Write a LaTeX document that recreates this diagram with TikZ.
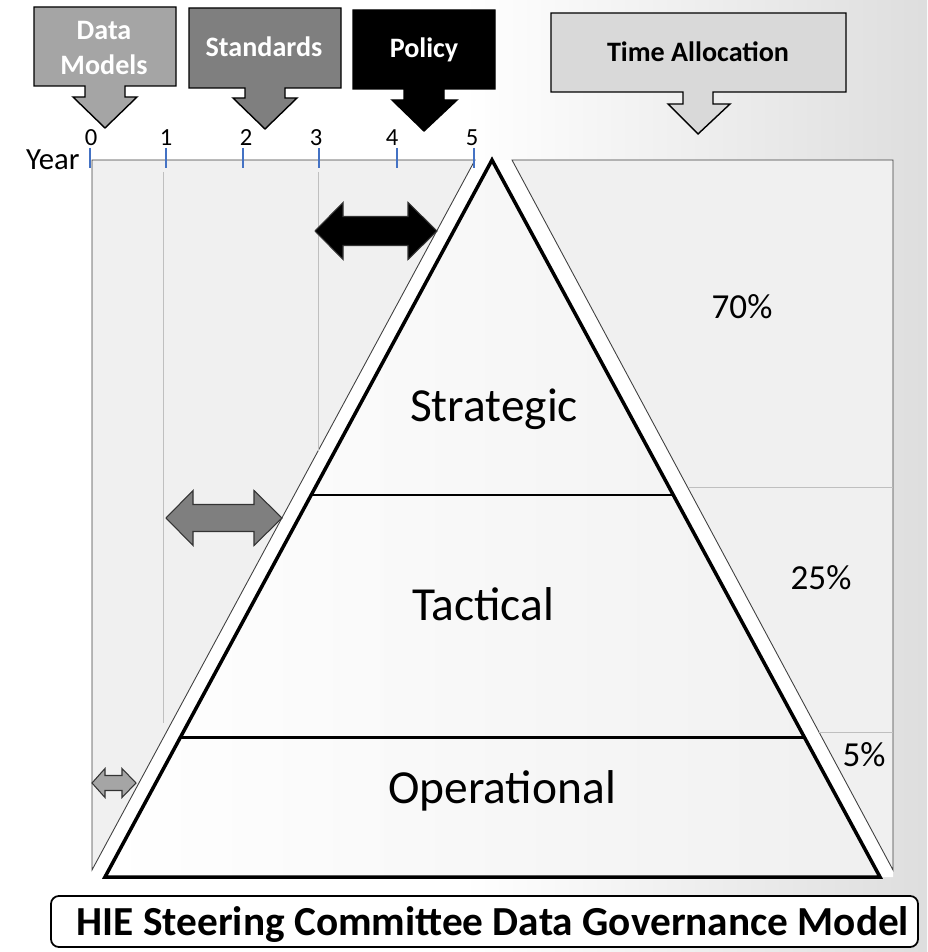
\documentclass[tikz,border=0pt]{standalone}
\usepackage{fontspec}
\setmainfont{Carlito}
\usepackage{tikz}
\usetikzlibrary{calc}
\definecolor{panelgray}{HTML}{F0F0F0}
\definecolor{modelgray}{HTML}{A5A5A5}
\definecolor{stdgray}{HTML}{7F7F7F}
\definecolor{timegray}{HTML}{D9D9D9}
\definecolor{tickblue}{HTML}{4472C4}
\pgfdeclarehorizontalshading{pagefade}{100bp}{color(0bp)=(white); color(25bp)=(white);
    color(50bp)=(white); color(75bp)=(black!13); color(100bp)=(black!13)}

\begin{document}
\begin{tikzpicture}[x=0.02cm, y=-0.02cm,
    callout/.style={draw=black, line width=0.8pt, line join=miter},
    twoway/.style={draw=black!80, line width=0.6pt, line join=miter},
    calltext/.style={font=\fontsize{16}{19.5}\selectfont\bfseries, anchor=base, align=center},
    tiertext/.style={font=\fontsize{27}{32}\selectfont, anchor=base},
    pcttext/.style={font=\fontsize{20}{24}\selectfont, anchor=base},
    gridline/.style={draw=black!25, line width=0.5pt}]
    \useasboundingbox (0,0) rectangle (927,952);

    % Background
    \shade[shading=pagefade] (0,0) rectangle (927,952);

    % Gaps beside the pyramid
    \fill[white] (475,160) -- (492,160) -- (105,877) -- (92,877) -- (92,870) -- cycle;
    \fill[white] (492,160) -- (512,160) -- (893,870) -- (893,877) -- (880,877) -- cycle;

    % Year panel
    \draw[fill=panelgray, draw=black!75, line width=0.5pt] (92,160) -- (475,160) -- (92,870) -- cycle;
    \draw[gridline] (163,172) -- (163,723);
    \draw[gridline] (318,172) -- (318,451);

    % Year ticks
    \foreach \tx/\lx/\yr in {90/91/0,166/166/1,243/246/2,319/316/3,397/392/4,474/472/5} {
        \draw[tickblue, line width=0.6pt] (\tx,148) -- (\tx,168);
        \node[font=\fontsize{14}{17}\selectfont, anchor=base] (yr\yr) at (\lx,146) {\yr};
    }
    \node[font=\fontsize{17.5}{21}\selectfont, anchor=base east, inner sep=0pt] (year) at (80,170) {Year};

    % Time allocation panel
    \draw[fill=panelgray, draw=black!75, line width=0.5pt] (512,160) -- (893,160) -- (893,870) -- cycle;
    \draw[gridline] (688,487) -- (893,487);
    \draw[gridline] (819,732) -- (893,732);

    % Pyramid
    \shadedraw[left color=white, right color=black!6, line width=2pt, line join=miter]
        (492,160) -- (880,877) -- (105,877) -- cycle;
    \draw[line width=1.7pt] (311,495) -- (673,495);
    \draw[line width=1.7pt] (181,737) -- (804,737);

    \node[tiertext] (strategic) at (494,421) {Strategic};
    \node[tiertext] (tactical) at (483,620) {Tactical};
    \node[tiertext] (operational) at (502,803) {Operational};

    \node[pcttext] (pct70) at (742,319) {70\%};
    \node[pcttext] (pct25) at (821,589) {25\%};
    \node[pcttext] (pct5) at (864,766) {5\%};

    % Horizon arrows
    \draw[twoway, fill=black] (315,231) -- (343,202.5) -- (343,216.5) -- (408,216.5) -- (408,202.5)
        -- (437,231) -- (408,259.5) -- (408,245.5) -- (343,245.5) -- (343,259.5) -- cycle;
    \draw[twoway, fill=stdgray] (166,518) -- (193,490.5) -- (193,504.5) -- (254,504.5) -- (254,490.5)
        -- (282,518) -- (254,545.5) -- (254,531.5) -- (193,531.5) -- (193,545.5) -- cycle;
    \draw[twoway, fill=modelgray] (92,783) -- (105,768.5) -- (105,775.5) -- (122,775.5) -- (122,768.5)
        -- (136,783) -- (122,797.5) -- (122,790.5) -- (105,790.5) -- (105,797.5) -- cycle;

    % Callouts
    \draw[callout, fill=modelgray] (34,7) -- (176,7) -- (176,86) -- (125,86) -- (125,97) -- (137,97)
        -- (105,128) -- (73,97) -- (85,97) -- (85,86) -- (34,86) -- cycle;
    \node[calltext, white, anchor=center] (models) at (104,48) {Data\\Models};

    \draw[callout, fill=stdgray] (189,8) -- (341,8) -- (341,88) -- (285,88) -- (285,98) -- (297,98)
        -- (265,129) -- (233,98) -- (245,98) -- (245,88) -- (189,88) -- cycle;
    \node[calltext, white] (standards) at (264,57) {Standards};

    \draw[callout, fill=black] (353,10) -- (495,10) -- (495,89) -- (444,89) -- (444,100) -- (457,100)
        -- (424,131) -- (392,100) -- (404,100) -- (404,89) -- (353,89) -- cycle;
    \node[calltext, white] (policy) at (424,58) {Policy};

    \draw[callout, fill=timegray] (551,13) -- (846,13) -- (846,92) -- (713,92) -- (713,104) -- (730,104)
        -- (698,134) -- (668,104) -- (683,104) -- (683,92) -- (551,92) -- cycle;
    \node[calltext] (timealloc) at (698,62) {Time Allocation};

    % Title box
    \draw[fill=white, line width=1pt, rounded corners=4.5pt] (51,896) rectangle (918,947);
    \node[font=\fontsize{23.5}{28}\selectfont\bfseries, anchor=base] (title) at (493,935)
        {HIE Steering Committee Data Governance Model};
\end{tikzpicture}
\end{document}
